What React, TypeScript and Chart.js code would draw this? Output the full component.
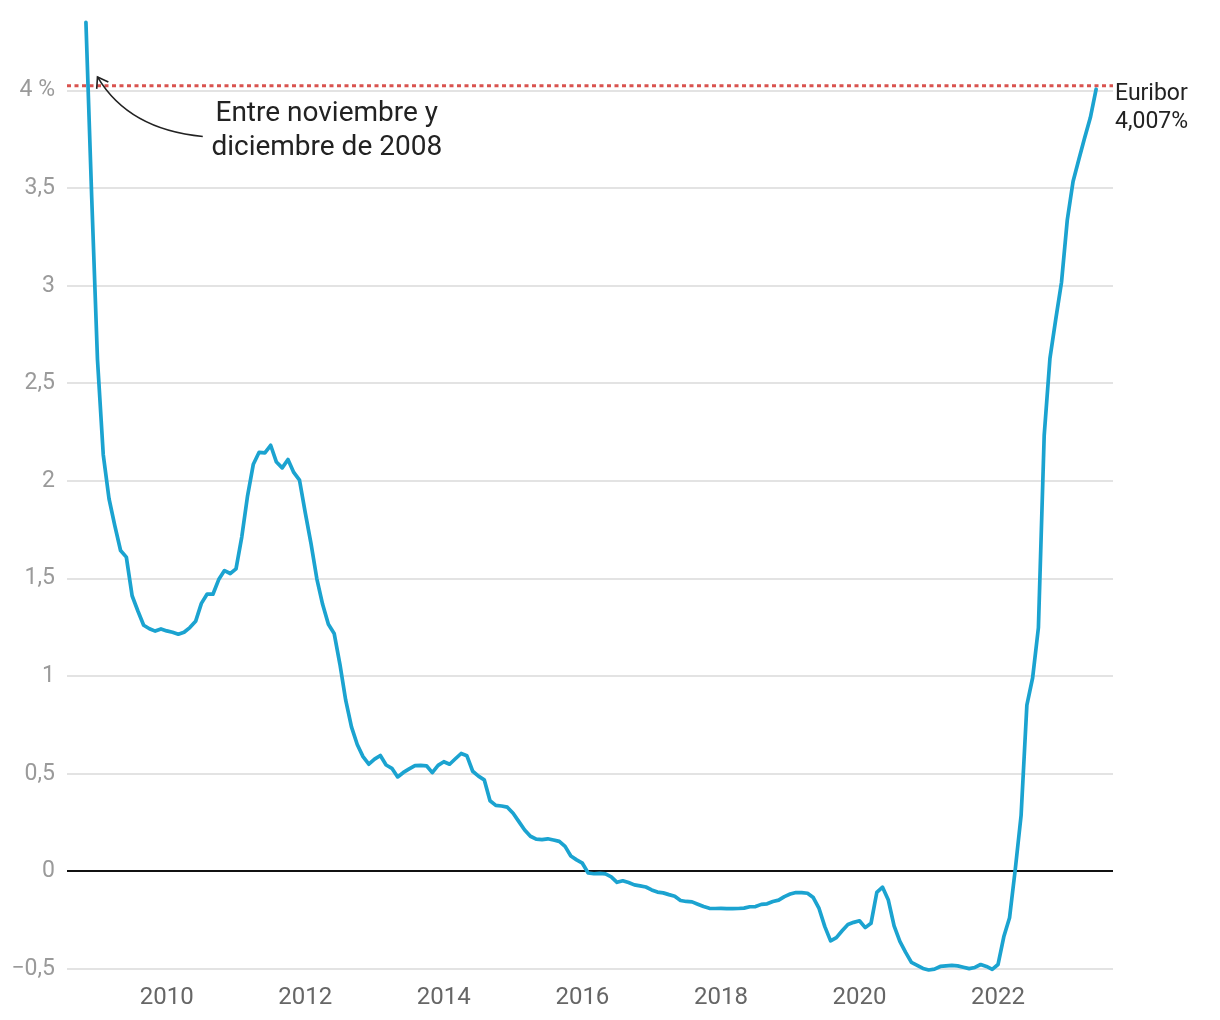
import React, { useEffect, useRef } from "react";
import { Chart, registerables } from "chart.js";

Chart.register(...registerables);

// Monthly 12-month Euribor (%), from November 2008 to June 2023
const START_YEAR = 2008;
const START_MONTH = 11; // November
const V2008 = [4.35, 3.452];
const V2009 = [2.622, 2.135, 1.909, 1.771, 1.644, 1.61, 1.412, 1.334, 1.261, 1.243, 1.231, 1.242];
const V2010 = [1.232, 1.225, 1.215, 1.225, 1.249, 1.281, 1.373, 1.421, 1.42, 1.495, 1.541, 1.526];
const V2011 = [1.55, 1.714, 1.924, 2.086, 2.147, 2.144, 2.183, 2.097, 2.067, 2.11, 2.044, 2.004];
const V2012 = [1.837, 1.678, 1.499, 1.368, 1.266, 1.219, 1.061, 0.877, 0.74, 0.65, 0.588, 0.549];
const V2013 = [0.575, 0.594, 0.545, 0.528, 0.484, 0.507, 0.525, 0.542, 0.543, 0.541, 0.506, 0.543];
const V2014 = [0.562, 0.549, 0.577, 0.604, 0.592, 0.513, 0.488, 0.469, 0.362, 0.338, 0.335, 0.329];
const V2015 = [0.298, 0.255, 0.212, 0.18, 0.165, 0.163, 0.167, 0.161, 0.154, 0.128, 0.079, 0.059];
const V2016 = [0.042, -0.008, -0.012, -0.01, -0.013, -0.028, -0.056, -0.048, -0.057, -0.069, -0.074, -0.08];
const V2017 = [-0.095, -0.106, -0.11, -0.119, -0.127, -0.149, -0.154, -0.156, -0.168, -0.18, -0.189, -0.19];
const V2018 = [-0.189, -0.191, -0.191, -0.19, -0.188, -0.181, -0.18, -0.169, -0.166, -0.154, -0.147, -0.129];
const V2019 = [-0.116, -0.108, -0.109, -0.112, -0.134, -0.19, -0.283, -0.356, -0.339, -0.304, -0.272, -0.261];
const V2020 = [-0.253, -0.288, -0.266, -0.108, -0.081, -0.147, -0.279, -0.359, -0.415, -0.466, -0.481, -0.497];
const V2021 = [-0.505, -0.501, -0.487, -0.484, -0.481, -0.484, -0.491, -0.498, -0.492, -0.477, -0.487, -0.502];
const V2022 = [-0.477, -0.335, -0.237, 0.013, 0.287, 0.852, 0.992, 1.249, 2.233, 2.629, 2.828, 3.018];
const V2023 = [3.337, 3.534, 3.647, 3.757, 3.862, 4.007];

const VALUES = [
  ...V2008, ...V2009, ...V2010, ...V2011, ...V2012, ...V2013, ...V2014, ...V2015,
  ...V2016, ...V2017, ...V2018, ...V2019, ...V2020, ...V2021, ...V2022, ...V2023,
];

const X_TICKS = [2010, 2012, 2014, 2016, 2018, 2020, 2022];
const Y_TICKS = [-0.5, 0, 0.5, 1, 1.5, 2, 2.5, 3, 3.5, 4];
const X_MIN = 2008.56;
const X_MAX = 2023.66;
const Y_MIN = -0.5;
const Y_MAX = 4.4;

const REFERENCE_LEVEL = 4.025; // current Euribor reference (dotted line)
const END_LABEL = ["Euribor", "4,007%"];
const NOTE_LINES = ["Entre noviembre y", "diciembre de 2008"];
const NOTE_POS = { x: 2012.31, y1: 3.88, y2: 3.705 };
const ARROW_START = { x: 2010.52, y: 3.765 };
const ARROW_CTRL = { x: 2009.45, y: 3.8 };
const ARROW_TIP = { x: 2009.0, y: 4.07 };

const LINE_COLOR = "#1ba3d0";
const REF_COLOR = "#d9534f";
const FONT = "Roboto, 'Noto Sans', sans-serif";

function fmtY(v: number): string {
  if (v === 4) return "4 %";
  const s = Math.abs(v).toString().replace(".", ",");
  return v < 0 ? "\u2212" + s : s;
}

const overlayPlugin = {
  id: "overlay",
  beforeDatasetsDraw(chart: any) {
    const { ctx, chartArea, scales } = chart;
    const y = scales.y.getPixelForValue(REFERENCE_LEVEL);
    ctx.save();
    ctx.strokeStyle = REF_COLOR;
    ctx.lineWidth = 3;
    ctx.setLineDash([4, 3.5]);
    ctx.beginPath();
    ctx.moveTo(chartArea.left, y);
    ctx.lineTo(chartArea.right, y);
    ctx.stroke();
    ctx.restore();
  },
  afterDraw(chart: any) {
    const { ctx, chartArea, scales } = chart;
    const xs = scales.x;
    const ys = scales.y;
    ctx.save();
    // end label
    ctx.fillStyle = "#222";
    ctx.font = `23px ${FONT}`;
    ctx.textAlign = "left";
    ctx.textBaseline = "middle";
    const ly = ys.getPixelForValue(REFERENCE_LEVEL);
    ctx.fillText(END_LABEL[0], chartArea.right + 2, ly + 9);
    ctx.fillText(END_LABEL[1], chartArea.right + 2, ly + 37);

    // annotation text
    ctx.font = `28px ${FONT}`;
    ctx.textAlign = "center";
    const nx = xs.getPixelForValue(NOTE_POS.x);
    ctx.fillText(NOTE_LINES[0], nx, ys.getPixelForValue(NOTE_POS.y1));
    ctx.fillText(NOTE_LINES[1], nx, ys.getPixelForValue(NOTE_POS.y2));

    // arrow
    const sx = xs.getPixelForValue(ARROW_START.x);
    const sy = ys.getPixelForValue(ARROW_START.y);
    const cx = xs.getPixelForValue(ARROW_CTRL.x);
    const cy = ys.getPixelForValue(ARROW_CTRL.y);
    const tx = xs.getPixelForValue(ARROW_TIP.x);
    const ty = ys.getPixelForValue(ARROW_TIP.y);
    ctx.strokeStyle = "#222";
    ctx.lineWidth = 1.6;
    ctx.beginPath();
    ctx.moveTo(sx, sy);
    ctx.quadraticCurveTo(cx, cy, tx, ty);
    ctx.stroke();
    const ang = Math.atan2(ty - cy, tx - cx);
    const len = 12;
    ctx.beginPath();
    ctx.moveTo(tx - len * Math.cos(ang - 0.6), ty - len * Math.sin(ang - 0.6));
    ctx.lineTo(tx, ty);
    ctx.lineTo(tx - len * Math.cos(ang + 0.6), ty - len * Math.sin(ang + 0.6));
    ctx.stroke();
    ctx.restore();
  },
};

export default function App() {
  const ref = useRef<HTMLCanvasElement | null>(null);
  useEffect(() => {
    if (!ref.current) return;
    const data = VALUES.map((v, i) => ({ x: START_YEAR + (START_MONTH - 1 + i) / 12, y: v }));
    const chart = new Chart(ref.current, {
      type: "line",
      data: {
        datasets: [
          {
            data,
            borderColor: LINE_COLOR,
            borderWidth: 3.7,
            pointRadius: 0,
            tension: 0,
            borderJoinStyle: "round",
            borderCapStyle: "round",
            clip: false as any,
          },
        ],
      },
      options: {
        responsive: false,
        animation: false,
        layout: { padding: { top: 12.5, right: 107, bottom: 0, left: 0 } },
        plugins: { legend: { display: false }, tooltip: { enabled: false } },
        scales: {
          x: {
            type: "linear",
            min: X_MIN,
            max: X_MAX,
            border: { display: false },
            grid: { display: false, drawTicks: false },
            afterBuildTicks: (s: any) => {
              s.ticks = X_TICKS.map((v) => ({ value: v }));
            },
            afterFit: (s: any) => {
              s.height = 51;
              s.paddingLeft = 0;
              s.paddingRight = 0;
            },
            ticks: {
              padding: 15,
              color: "#666",
              font: { family: FONT, size: 24 },
              callback: (v: any) => String(v),
              maxRotation: 0,
              autoSkip: false,
            },
          },
          y: {
            min: Y_MIN,
            max: Y_MAX,
            border: { display: false },
            grid: {
              drawTicks: false,
              color: (c: any) => (c.tick && c.tick.value === 0 ? "#111" : "#e3e3e3"),
              lineWidth: 2,
            },
            afterBuildTicks: (s: any) => {
              s.ticks = Y_TICKS.map((v) => ({ value: v }));
            },
            afterFit: (s: any) => {
              s.width = 67;
              s.paddingTop = 0;
              s.paddingBottom = 0;
            },
            ticks: {
              padding: 12,
              color: "#9a9a9a",
              font: { family: FONT, size: 23 },
              callback: (v: any) => fmtY(Number(v)),
              autoSkip: false,
            },
          },
        },
      },
      plugins: [overlayPlugin],
    } as any);
    return () => chart.destroy();
  }, []);
  return (
    <div style={{ position: "absolute", left: 0, top: 0, width: 1220, height: 1020, background: "#fff" }}>
      <canvas ref={ref} width={1220} height={1020} style={{ width: 1220, height: 1020 }} />
    </div>
  );
}
